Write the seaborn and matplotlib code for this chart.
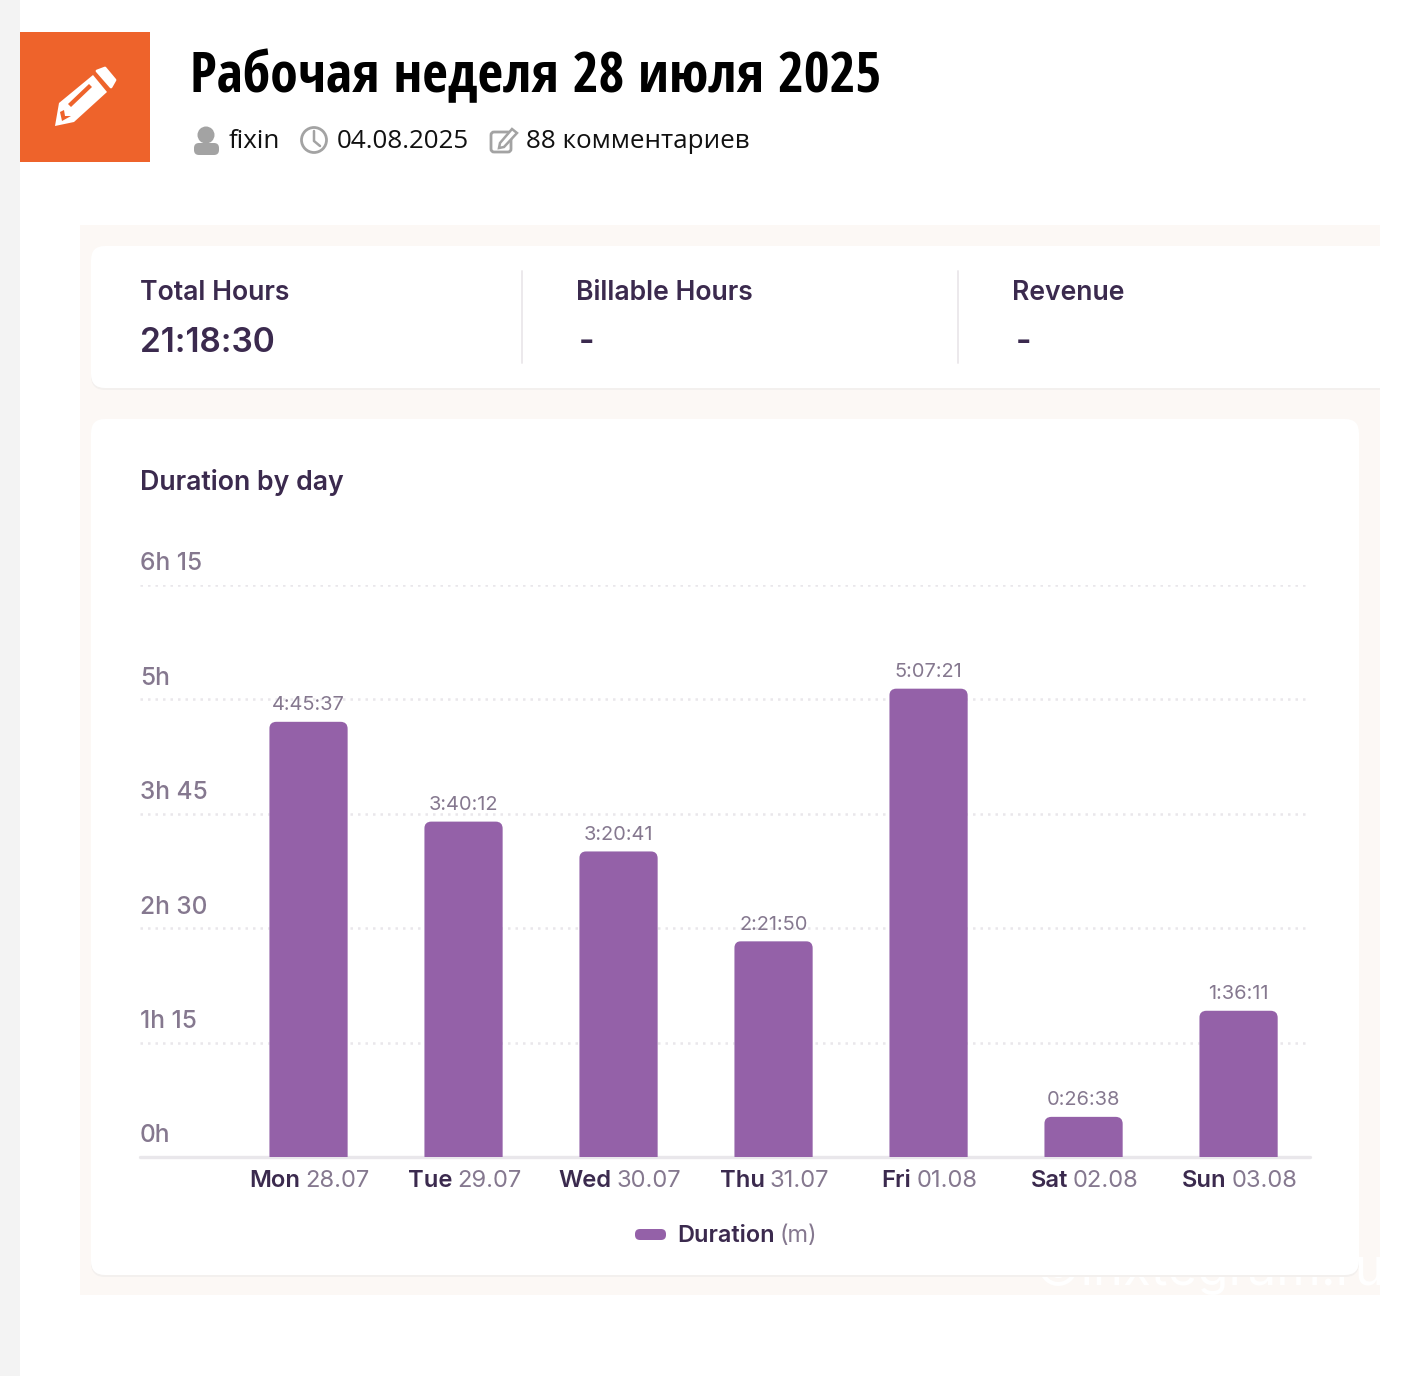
import matplotlib
matplotlib.use("Agg")
import matplotlib.pyplot as plt
import matplotlib.font_manager as fm
from matplotlib.patches import FancyBboxPatch, Rectangle, Circle, Polygon
from matplotlib.transforms import ScaledTranslation, IdentityTransform
import pandas as pd
import seaborn as sns

# data
days = ["Mon", "Tue", "Wed", "Thu", "Fri", "Sat", "Sun"]
dates = ["28.07", "29.07", "30.07", "31.07", "01.08", "02.08", "03.08"]
duration_labels = ["4:45:37", "3:40:12", "3:20:41", "2:21:50", "5:07:21", "0:26:38", "1:36:11"]
duration_minutes = [285.62, 220.2, 200.68, 141.83, 307.35, 26.63, 96.18]
y_ticks = [0, 75, 150, 225, 300, 375]
y_tick_labels = ["0h", "1h 15", "2h 30", "3h 45", "5h", "6h 15"]

W, H = 1428, 1376
DARK = "#3b2a4e"
GREY = "#85788f"
PURPLE = "#9461a8"
ORANGE = "#ee632b"
ICON = "#a3a3a3"
LINE = "#e9e7eb"

sns.set_theme(style="white")
plt.rcParams["font.family"] = ["Inter", "DejaVu Sans"]
HEAD_FONT = ["Open Sans", "DejaVu Sans"]
installed = {f.name for f in fm.fontManager.ttflist}
# the page title is a condensed cut, only used when the machine has one
TITLE_FONT = [n for n in ["Open Sans Condensed", "Roboto Condensed", "Open Sans"] if n in installed] + ["DejaVu Sans"]


def px(size):
    return size * 72 / 100


fig = plt.figure(figsize=(W / 100, H / 100), dpi=100, facecolor="white")

# page chrome drawn in pixel coordinates
bg = fig.add_axes([0, 0, 1, 1], zorder=0)
bg.set_xlim(0, W)
bg.set_ylim(H, 0)
bg.axis("off")


def card(x0, y0, x1, y1, r=14, z=2):
    bg.add_patch(FancyBboxPatch((x0, y0 + 2), x1 - x0, y1 - y0, boxstyle=f"round,pad=0,rounding_size={r}",
                                fc="#f3f0ee", ec="none", zorder=z - 0.1))
    bg.add_patch(FancyBboxPatch((x0, y0), x1 - x0, y1 - y0, boxstyle=f"round,pad=0,rounding_size={r}",
                                fc="white", ec="none", zorder=z))


bg.add_patch(Rectangle((0, 0), 20, H, fc="#f3f3f3", ec="none"))
bg.add_patch(Rectangle((20, 32), 130, 130, fc=ORANGE, ec="none"))
bg.add_patch(Rectangle((80, 225), 1300, 1070, fc="#fcf8f5", ec="none", zorder=1))

# pencil icon
bg.add_patch(Polygon([(55, 126), (59, 103), (93, 75), (107, 92), (74, 122)], fc="white", ec="none", zorder=3))
bg.add_patch(Polygon([(97, 71), (105, 68), (115, 80), (111, 87)], fc="white", ec="white", lw=2, joinstyle="round", zorder=3))
bg.add_patch(Polygon([(68, 104), (89, 84), (92, 87), (71, 107)], fc=ORANGE, ec="none", zorder=4))
bg.add_patch(Polygon([(60, 112), (64, 110), (65, 116), (71, 116), (62, 121)], fc=ORANGE, ec="none", zorder=4))

# header
bg.text(190, 78, "Рабочая неделя 28 июля 2025", family=TITLE_FONT, fontsize=px(55.8), weight="bold",
        color="black", va="center", ha="left", zorder=3)
for x, s in [(229, "fixin"), (337, "04.08.2025"), (526, "88 комментариев")]:
    bg.text(x, 142, s, family=HEAD_FONT, fontsize=px(26), color="#111111", va="center", ha="left", zorder=3)

# person icon
bg.add_patch(Circle((206, 135), 8.5, fc=ICON, ec="none", zorder=3))
bg.add_patch(FancyBboxPatch((194, 143), 25, 12, boxstyle="round,pad=0,rounding_size=5", fc=ICON, ec="none", zorder=3))
# clock icon
bg.add_patch(Circle((314, 140), 12.5, fc="white", ec=ICON, lw=2, zorder=3))
bg.plot([314, 314, 320], [131, 141, 146], color=ICON, lw=1.8, zorder=4)
# edit icon
bg.add_patch(FancyBboxPatch((491, 132), 20, 20, boxstyle="round,pad=0,rounding_size=3", fc="white", ec=ICON, lw=2, zorder=3))
bg.add_patch(Polygon([(500, 143), (512, 129), (517, 133), (504, 147), (499, 148)], fc="white", ec=ICON, lw=1.8, zorder=4))

# watermark, mostly hidden behind the lower card
bg.text(1035, 1285, "©inxtegram.ru", fontsize=px(51), color="white", va="baseline", ha="left", zorder=1.5)

# cards
bg.add_patch(FancyBboxPatch((91, 248), 1320, 142, boxstyle="round,pad=0,rounding_size=14", fc="#f3f0ee", ec="none", zorder=1.9))
bg.add_patch(FancyBboxPatch((91, 246), 1320, 142, boxstyle="round,pad=0,rounding_size=14", fc="white", ec="none", zorder=2))
bg.add_patch(Rectangle((1380, 225), 48, 200, fc="white", ec="none", zorder=2.5))
card(91, 419, 1359, 1275)
bg.plot([521.5, 521.5], [271, 363], color="#ece9ec", lw=1.4, zorder=3)
bg.plot([957.5, 957.5], [271, 363], color="#ece9ec", lw=1.4, zorder=3)

for x, s, v in [(140, "Total Hours", "21:18:30"), (576, "Billable Hours", "-"), (1012.5, "Revenue", "-")]:
    bg.text(x, 293, s, fontsize=px(26.6), weight=600, color=DARK, va="center", zorder=3)
    bg.text(x + (0 if v != "-" else 3), 343, v, fontsize=px(33.5), weight=600, color=DARK, va="center", zorder=3)
bg.text(140, 482, "Duration by day", fontsize=px(26.7), weight=600, color=DARK, va="center", zorder=3)

# chart area: zero line at y=1157, 6h 15 at y=585
left, right, top, bottom = 140, 1310, 585, 1157
ax = fig.add_axes([left / W, 1 - bottom / H, (right - left) / W, (bottom - top) / H], zorder=3)
ax.patch.set_alpha(0)

df = pd.DataFrame({"day": days, "minutes": duration_minutes})
sns.barplot(data=df, x="day", y="minutes", color=PURPLE, saturation=1, width=0.505, ax=ax, zorder=3,
            edgecolor="#b08fc2", linewidth=0.7)
ax.set_xlim(-1.087, 6.461)
ax.set_ylim(0, 375)
ax.set_xlabel("")
ax.set_ylabel("")
sns.despine(ax=ax, left=True, top=True, right=True, bottom=True)

ax.set_yticks(y_ticks)
ax.set_yticklabels(y_tick_labels)
ax.tick_params(axis="y", length=0, pad=0, labelsize=px(24.5), labelcolor=GREY)
ax.tick_params(axis="x", length=0, labelbottom=False)
lift = ScaledTranslation(0, 21 / 100, fig.dpi_scale_trans)
for lab in ax.get_yticklabels():
    lab.set_ha("left")
    lab.set_va("center")
    lab.set_weight(500)
    lab.set_transform(lab.get_transform() + lift)
    lab.set_clip_on(False)

for t in y_ticks[1:]:
    ax.axhline(t, xmax=0.9975, color=LINE, lw=1.8, ls=(0, (1, 2)), zorder=1)
ax.plot([0, 1.0], [0, 0], transform=ax.transAxes, color=LINE, lw=2.4, clip_on=False, zorder=2)

# rounded top corners on the bars
fig.canvas.draw()
for bar, label in zip(ax.patches, duration_labels):
    (x0, y0), (x1, y1) = ax.transData.transform([(bar.get_x(), 0), (bar.get_x() + bar.get_width(), bar.get_height())])
    clip = FancyBboxPatch((x0, y0 - 12), x1 - x0, y1 - y0 + 11.5, boxstyle="round,pad=0,rounding_size=7",
                          transform=IdentityTransform())
    bar.set_clip_path(clip)
    ax.annotate(label, (bar.get_x() + bar.get_width() / 2, bar.get_height()), xytext=(0, 16),
                textcoords="offset pixels", ha="center", va="center", fontsize=px(20), color=GREY, zorder=5)

# two tone day labels, centred under each bar
renderer = fig.canvas.get_renderer()
for i, (d, dt) in enumerate(zip(days, dates)):
    a = ax.annotate(d, (i, 0), xytext=(0, -24), textcoords="offset pixels", ha="left", va="center",
                    fontsize=px(23.8), weight=600, color=DARK, annotation_clip=False)
    b = ax.annotate(dt, (i, 0), xytext=(0, -24), textcoords="offset pixels", ha="left", va="center",
                    fontsize=px(23.8), color=GREY, annotation_clip=False)
    wa = a.get_window_extent(renderer).width
    wb = b.get_window_extent(renderer).width
    start = -(wa + 5 + wb) / 2 + 1
    a.xyann = (start, -24)
    b.xyann = (start + wa + 5, -24)

# legend
bg.add_patch(FancyBboxPatch((635, 1229), 31, 11, boxstyle="round,pad=0,rounding_size=5", fc=PURPLE, ec="none", zorder=3))
leg = bg.text(677, 1236, "Duration", fontsize=px(23.5), weight=600, color=DARK, va="center", zorder=3)
ext = leg.get_window_extent(renderer)
bg.text(677 + ext.width + 5, 1236, "(m)", fontsize=px(23.5), color=GREY, va="center", zorder=3)

fig.savefig("out.png", dpi=100, facecolor="white")
